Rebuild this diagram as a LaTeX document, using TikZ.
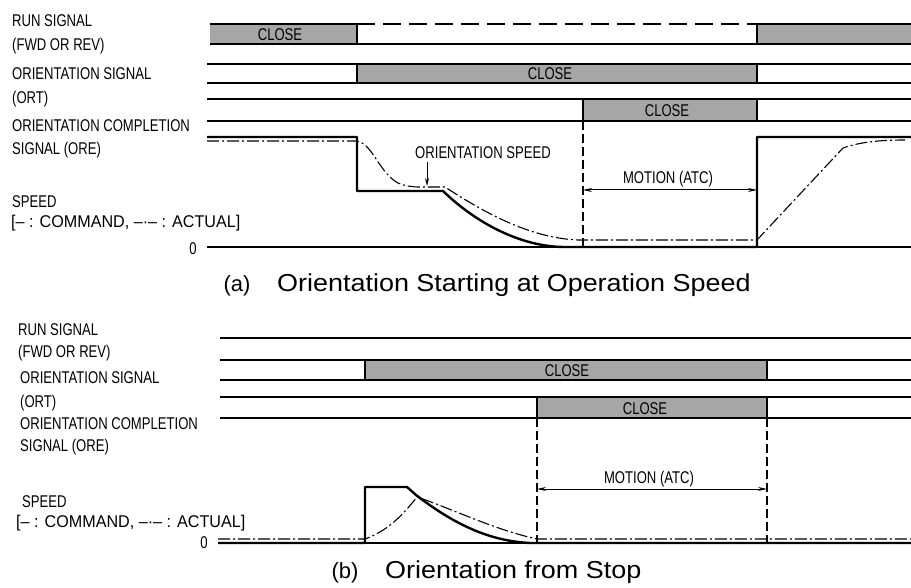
\documentclass[tikz,border=0pt]{standalone}
\usepackage{fontspec}
\setmainfont{Liberation Sans}
\newfontfamily\condfont[FakeStretch=0.77]{Liberation Sans}
\newfontfamily\legfont[FakeStretch=0.95]{Liberation Sans}
\newfontfamily\capfont[FakeStretch=1.1]{Liberation Sans}
\usetikzlibrary{arrows.meta}
\begin{document}
\begin{tikzpicture}[x=1pt,y=-1pt,
  thk/.style={line width=2.4pt},
  thn/.style={line width=1.3pt},
  sigbox/.style={fill=black!35, draw=black, line width=2.4pt},
  actual/.style={line width=1.1pt, dash pattern=on 12pt off 3pt on 2pt off 3pt},
  cmd/.style={line width=2.4pt, line join=round},
  guide/.style={line width=1.1pt, dash pattern=on 9pt off 4pt},
  rundash/.style={line width=2.4pt, dash pattern=on 18pt off 8pt},
  dimline/.style={line width=1pt, {Stealth[length=9pt,width=4pt]}-{Stealth[length=9pt,width=4pt]}},
  pointer/.style={line width=1pt, -{Stealth[length=8pt,width=4pt]}},
  lbl/.style={font=\condfont\fontsize{17}{17}\selectfont, inner sep=0pt, text height=12.2pt, text depth=0pt},
  leg/.style={font=\legfont\fontsize{17}{17}\selectfont, inner sep=0pt, text height=12.2pt, text depth=0pt},
  captxt/.style={font=\capfont\fontsize{24.5}{24.5}\selectfont, inner sep=0pt, anchor=base west},
  caplbl/.style={font=\fontsize{22}{22}\selectfont, inner sep=0pt, anchor=base}
]
\useasboundingbox (0,0) rectangle (911,588);

% ================= (a) =================
% left labels
\node[lbl, anchor=west] (aL1) at (12,20) {RUN SIGNAL};
\node[lbl, anchor=west] (aL2) at (12,44) {(FWD OR REV)};
\node[lbl, anchor=west] (aL3) at (12,73) {ORIENTATION SIGNAL};
\node[lbl, anchor=west] (aL4) at (12,97) {(ORT)};
\node[lbl, anchor=west] (aL5) at (12,125) {ORIENTATION COMPLETION};
\node[lbl, anchor=west] (aL6) at (12,148) {SIGNAL (ORE)};
\node[lbl, anchor=west] (aL7) at (12,201) {SPEED};
\node[leg, anchor=west] (aL8) at (11,221) {[– : COMMAND, –·– : ACTUAL]};
\node[lbl] (aZero) at (193,248) {0};

% run signal (a)
\fill[black!35] (210,24) rectangle (357,44);
\draw[thk] (210,24) -- (357,24) -- (357,44) -- (210,44);
\node[lbl] (aRunClose) at (280,34) {CLOSE};
\draw[rundash] (357,24) -- (757,24);
\draw[thn] (357,44) -- (757,44);
\fill[black!35] (757,24) rectangle (911,44);
\draw[thk] (911,24) -- (757,24) -- (757,44) -- (911,44);

% orientation signal (a)
\draw[thk] (207,64) -- (357,64);
\draw[thn] (207,83) -- (357,83);
\filldraw[sigbox] (357,64) rectangle (757,83);
\node[lbl] (aOrtClose) at (550,73) {CLOSE};
\draw[thk] (757,64) -- (911,64);
\draw[thn] (757,83) -- (911,83);

% orientation completion (a)
\draw[thk] (207,99) -- (583,99);
\draw[thn] (207,121) -- (583,121);
\filldraw[sigbox] (583,99) rectangle (757,121);
\node[lbl] (aOreClose) at (667,110) {CLOSE};
\draw[thk] (757,99) -- (911,99);
\draw[thn] (757,121) -- (911,121);

% speed (a)
\draw[thn] (207,247) -- (911,247);
\draw[cmd] (207,137) -- (357,137) -- (357,191) -- (443,191)
  .. controls (475,222) and (520,247) .. (565,247) -- (757,247) -- (757,137) -- (911,137);
\draw[actual] (207,141) -- (355,141) .. controls (372,141) and (378,172) .. (398,183)
  .. controls (405,186) and (412,187) .. (420,187) -- (445,187)
  .. controls (485,213) and (530,238) .. (578,240) -- (757,240) -- (843,148)
  .. controls (860,142) and (880,140) .. (905,140);
\draw[guide] (583,121) -- (583,247);

\node[lbl] (aOsp) at (483,152) {ORIENTATION SPEED};
\coordinate (aOspA) at (427,162);
\coordinate (aOspB) at (427,186);
\draw[pointer] (aOspA) -- (aOspB);

\node[lbl] (aMot) at (668,177) {MOTION (ATC)};
\coordinate (aM1) at (583,190);
\coordinate (aM2) at (757,190);
\draw[dimline] (aM1) -- (aM2);

\node[caplbl] (aCapL) at (237,291) {(a)};
\node[captxt] (aCap) at (277,291) {Orientation Starting at Operation Speed};

% ================= (b) =================
\node[lbl, anchor=west] (bL1) at (18,329) {RUN SIGNAL};
\node[lbl, anchor=west] (bL2) at (18,351) {(FWD OR REV)};
\node[lbl, anchor=west] (bL3) at (20,377) {ORIENTATION SIGNAL};
\node[lbl, anchor=west] (bL4) at (20,401) {(ORT)};
\node[lbl, anchor=west] (bL5) at (20,423) {ORIENTATION COMPLETION};
\node[lbl, anchor=west] (bL6) at (20,445) {SIGNAL (ORE)};
\node[lbl, anchor=west] (bL7) at (22,501) {SPEED};
\node[leg, anchor=west] (bL8) at (16,521) {[– : COMMAND, –·– : ACTUAL]};
\node[lbl] (bZero) at (204,542) {0};

% run signal (b)
\draw[thn] (220,338) -- (911,338);

% orientation signal (b)
\draw[thk] (220,360) -- (365,360);
\draw[thn] (220,380) -- (365,380);
\filldraw[sigbox] (365,360) rectangle (767,380);
\node[lbl] (bOrtClose) at (567,370) {CLOSE};
\draw[thk] (767,360) -- (911,360);
\draw[thn] (767,380) -- (911,380);

% orientation completion (b)
\draw[thk] (220,397) -- (537,397);
\draw[thn] (220,418) -- (537,418);
\filldraw[sigbox] (537,397) rectangle (767,418);
\node[lbl] (bOreClose) at (645,408) {CLOSE};
\draw[thk] (767,397) -- (911,397);
\draw[thn] (767,418) -- (911,418);

% speed (b)
\draw[thn] (218,543) -- (911,543);
\draw[cmd] (218,543) -- (365,543) -- (365,487) -- (407,487) -- (416,495)
  .. controls (455,525) and (490,541) .. (530,543) -- (911,543);
\draw[actual] (218,539) -- (365,539) .. controls (390,530) and (405,512) .. (417,497)
  .. controls (450,508) and (495,530) .. (537,539) -- (911,539);
\draw[guide] (537,418) -- (537,543);
\draw[guide] (767,418) -- (767,543);

\node[lbl] (bMot) at (649,477) {MOTION (ATC)};
\coordinate (bM1) at (537,489);
\coordinate (bM2) at (767,489);
\draw[dimline] (bM1) -- (bM2);

\node[caplbl] (bCapL) at (345,578) {(b)};
\node[captxt] (bCap) at (385,578) {Orientation from Stop};
\end{tikzpicture}
\end{document}
